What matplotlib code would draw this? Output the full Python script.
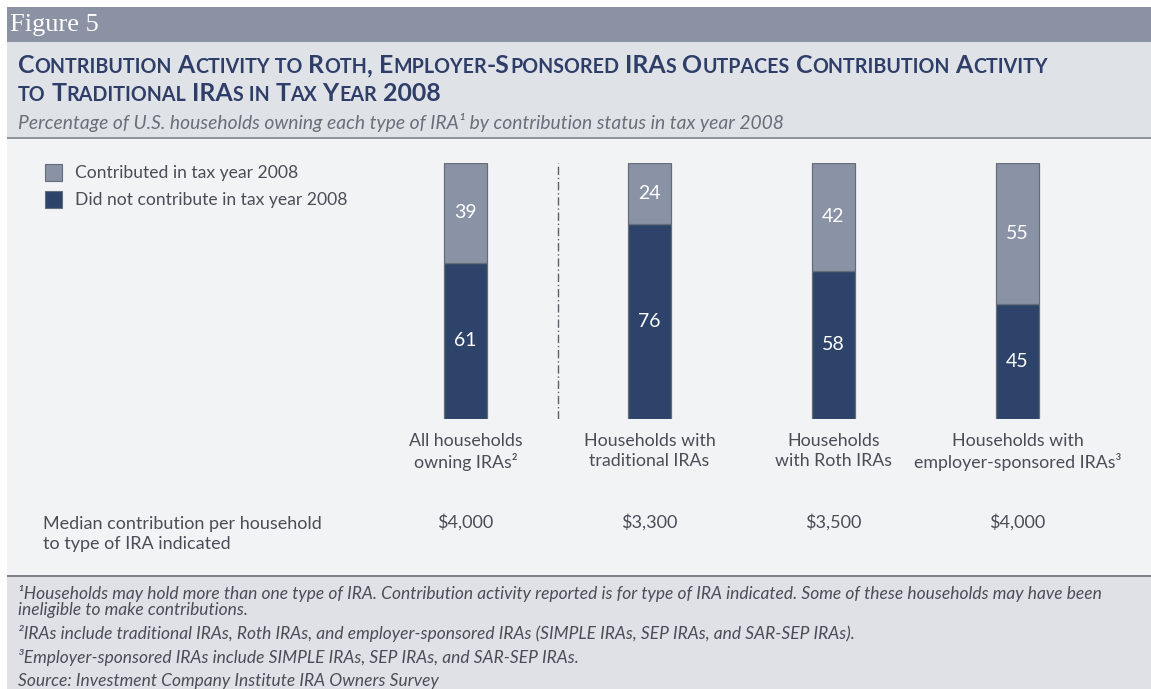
import re
import matplotlib.pyplot as plt
from matplotlib.patches import Rectangle

# data
categories = [
    "All households\nowning IRAs²",
    "Households with\ntraditional IRAs",
    "Households\nwith Roth IRAs",
    "Households with\nemployer-sponsored IRAs³",
]
contributed = [39, 24, 42, 55]
not_contributed = [61, 76, 58, 45]
median_contribution = ["$4,000", "$3,300", "$3,500", "$4,000"]

footnote_lines = [
    "¹Households may hold more than one type of IRA. Contribution activity reported is for type of IRA indicated. "
    "Some of these households may have been",
    "ineligible to make contributions.",
    "²IRAs include traditional IRAs, Roth IRAs, and employer-sponsored IRAs (SIMPLE IRAs, SEP IRAs, and SAR-SEP IRAs).",
    "³Employer-sponsored IRAs include SIMPLE IRAs, SEP IRAs, and SAR-SEP IRAs.",
    "Source: Investment Company Institute IRA Owners Survey",
]

W, H = 1151, 689
DARK = "#2e4369"
LIGHT = "#8a93a6"
EDGE = "#656c7a"
TEXT = "#4a4d56"
TITLE = "#2f3e68"

plt.rcParams["font.family"] = ["Lato", "DejaVu Sans"]

fig = plt.figure(figsize=(W / 100, H / 100), dpi=100)
fig.patch.set_facecolor("white")


def fx(px):
    return px / W


def fy(py):
    return 1 - py / H


def band(y0, y1, color):
    fig.add_artist(Rectangle((fx(7), fy(y1)), fx(W - 7), fy(y0) - fy(y1),
                             transform=fig.transFigure, color=color, lw=0, zorder=0))


band(7, 42, "#8a92a4")
band(42, 137, "#dfe2e7")
band(137, 139, "#8e9299")
band(139, 575, "#f2f3f5")
band(575, 577, "#7e8289")
band(577, 689, "#dfe1e6")

fig.text(fx(10), fy(31), "Figure 5", family="Liberation Serif", fontsize=19,
         color="white", va="baseline")


def small_caps(x, y, text, big, small):
    # fake small caps: lowercase letters become smaller capitals
    renderer = fig.canvas.get_renderer()
    for tok in re.findall(r"\s*[a-z]+|\s*[^a-z\s]+", text):
        size = small if tok.strip().islower() else big
        t = fig.text(x, y, tok.upper(), fontsize=size, fontweight="bold",
                     color=TITLE, va="baseline")
        x += t.get_window_extent(renderer).width / fig.bbox.width


small_caps(fx(18), fy(73),
           "Contribution Activity to Roth, Employer-Sponsored IRAs Outpaces Contribution Activity", 17.9, 14.1)
small_caps(fx(18), fy(101), "to Traditional IRAs in Tax Year 2008", 17.9, 14.1)

fig.text(fx(18), fy(129),
         "Percentage of U.S. households owning each type of IRA¹ by contribution status in tax year 2008",
         fontsize=13.9, style="italic", color="#6a6e78", va="baseline")

# legend
for yy, col, lab in [(164, LIGHT, "Contributed in tax year 2008"),
                     (191, DARK, "Did not contribute in tax year 2008")]:
    fig.add_artist(Rectangle((fx(45), fy(yy + 17)), fx(17), fy(yy) - fy(yy + 17),
                             transform=fig.transFigure, facecolor=col, edgecolor=EDGE, lw=0.8))
    fig.text(fx(75), fy(yy + 9), lab, fontsize=12.6, color=TEXT, va="center")

# bars
ax = fig.add_axes([fx(373.5), fy(419), fx(736), fy(163) - fy(419)])
ax.set_facecolor("none")
x = range(len(categories))
ax.bar(x, not_contributed, width=0.235, color=DARK, edgecolor=EDGE, lw=0.9)
ax.bar(x, contributed, width=0.235, bottom=not_contributed, color=LIGHT, edgecolor=EDGE, lw=0.9)

for i in x:
    ax.text(i, not_contributed[i] / 2, str(not_contributed[i]), ha="center", va="center",
            color="white", fontsize=14)
    ax.text(i, not_contributed[i] + contributed[i] / 2, str(contributed[i]), ha="center",
            va="center", color="white", fontsize=14)
    ax.text(i, -0.405, median_contribution[i], transform=ax.get_xaxis_transform(),
            ha="center", va="center", color=TEXT, fontsize=13)

ax.axvline(0.5, color="#5a5f6b", lw=1, ls=(0, (6, 2, 1, 2)))

ax.set_xlim(-0.5, 3.5)
ax.set_ylim(0, 100)
ax.set_xticks(list(x))
ax.set_xticklabels(categories, fontsize=12.8, color=TEXT, linespacing=1.3)
ax.tick_params(axis="x", length=0, pad=10)
ax.set_yticks([])
for s in ax.spines.values():
    s.set_visible(False)

fig.text(fx(43), fy(534), "Median contribution per household\nto type of IRA indicated",
         fontsize=13, color=TEXT, va="center", linespacing=1.25)

# footnotes
for yy, line in zip([593, 610, 634, 658, 681], footnote_lines):
    fig.text(fx(18), fy(yy), line, fontsize=12.5, style="italic", color=TEXT, va="center")

fig.savefig("out.png", dpi=100)
